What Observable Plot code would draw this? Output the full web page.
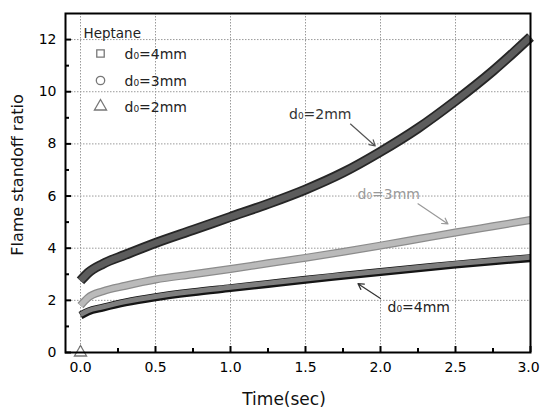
<!DOCTYPE html>
<html>
<head>
<meta charset="utf-8">
<script src="https://cdn.jsdelivr.net/npm/d3@7"></script>
<script src="https://cdn.jsdelivr.net/npm/@observablehq/plot@0.6"></script>
<style>
  html, body { margin: 0; padding: 0; background: white; }
</style>
</head>
<body>
<div id="chart"></div>
<script>
// ---- data ----
const time      = [0, 0.05, 0.15, 0.3, 0.5, 0.75, 1.0, 1.25, 1.5, 1.75, 2.0, 2.25, 2.5, 2.75, 3.0];
const ratio4mm  = [1.45, 1.6, 1.75, 1.95, 2.15, 2.34, 2.5, 2.66, 2.82, 2.97, 3.12, 3.26, 3.4, 3.53, 3.65];
const ratio3mm  = [1.8, 2.1, 2.35, 2.56, 2.8, 3.0, 3.2, 3.42, 3.63, 3.86, 4.1, 4.35, 4.6, 4.84, 5.08];
const ratio2mm  = [2.75, 3.05, 3.4, 3.75, 4.2, 4.7, 5.2, 5.7, 6.25, 6.9, 7.7, 8.6, 9.65, 10.8, 12.1];
const seriesNames = ["d₀=4mm", "d₀=3mm", "d₀=2mm"];
const legendTitle = "Heptane";
const originTime = [0];
const originRatio = [0];

const xTicks  = [0, 0.5, 1.0, 1.5, 2.0, 2.5, 3.0];
const xMinor  = [0.25, 0.75, 1.25, 1.75, 2.25, 2.75];
const yTicks  = [0, 2, 4, 6, 8, 10, 12];
const yMinor  = [1, 3, 5, 7, 9, 11];

// annotation labels (data coordinates) and arrows
const annText = ["d₀=2mm", "d₀=3mm", "d₀=4mm"];
const annX    = [1.39, 1.847, 2.047];
const annY    = [9.14, 6.04, 1.72];
const arrX1   = [1.80, 2.25, 2.00];
const arrY1   = [8.76, 5.70, 2.07];
const arrX2   = [1.965, 2.45, 1.85];
const arrY2   = [7.92, 4.93, 2.64];

// ---- build tables ----
const mk = (vals) => time.map((t, i) => ({t, v: vals[i]}));
const s4 = mk(ratio4mm), s3 = mk(ratio3mm), s2 = mk(ratio2mm);
const origin = originTime.map((t, i) => ({t, v: originRatio[i]}));
const ann = annText.map((s, i) => ({s, x: annX[i], y: annY[i], x1: arrX1[i], y1: arrY1[i], x2: arrX2[i], y2: arrY2[i]}));
const annColor = ["#333", "#999", "#222"];
const arrowColor = ["#555", "#999", "#333"];

const W = 540, H = 409;
const mL = 65, mR = 10, mT = 13, mB = 57;
const plotW = W - mL - mR, plotH = H - mT - mB;

const band = (data, outer, inner, wOut, wIn, dyOut = 0) => [
  Plot.line(data, {x: "t", y: "v", stroke: outer, strokeWidth: wOut, curve: "monotone-x", strokeLinecap: "butt", dy: dyOut}),
  Plot.line(data, {x: "t", y: "v", stroke: inner, strokeWidth: wIn, curve: "monotone-x", strokeLinecap: "butt"})
];

const chart = Plot.plot({
  width: W,
  height: H,
  marginLeft: mL, marginRight: mR, marginTop: mT, marginBottom: mB,
  style: {fontFamily: "DejaVu Sans", fontSize: "14px", background: "white", color: "black"},
  x: {domain: [-0.1, 3.0], label: null},
  y: {domain: [0, 13], label: null},
  marks: [
    Plot.gridX(xTicks, {stroke: "#9a9a9a", strokeOpacity: 1, strokeDasharray: "1.5,1.5"}),
    Plot.gridY(yTicks, {stroke: "#9a9a9a", strokeOpacity: 1, strokeDasharray: "1.5,1.5"}),
    // inward ticks
    Plot.tickX(xTicks, {x: d => d, insetTop: plotH - 6, stroke: "black", strokeWidth: 2}),
    Plot.tickX(xMinor, {x: d => d, insetTop: plotH - 4, stroke: "black", strokeWidth: 2}),
    Plot.tickY(yTicks, {y: d => d, insetRight: plotW - 6, stroke: "black", strokeWidth: 2}),
    Plot.tickY(yMinor, {y: d => d, insetRight: plotW - 4, stroke: "black", strokeWidth: 2}),
    Plot.axisX(xTicks.slice(0, -1), {tickSize: 0, tickPadding: 10, tickFormat: d3.format(".1f"), fontSize: 14, label: null}),
    Plot.axisX(xTicks.slice(-1), {tickSize: 0, tickPadding: 10, tickFormat: d3.format(".1f"), fontSize: 14, label: null, dx: -2}),
    Plot.axisY(yTicks, {tickSize: 0, tickPadding: 9, tickFormat: d3.format("d"), fontSize: 14, label: null}),
    // data bands
    ...band(s4, "#151515", "#7e7e7e", 8, 5, 0.8),
    ...band(s3, "#8c8c8c", "#bababa", 8, 5.5),
    ...band(s2, "#262626", "#5c5c5c", 10, 6.5),
    Plot.dot(origin, {x: "t", y: "v", symbol: "triangle", r: 4.5, stroke: "#777", fill: "white", strokeWidth: 1.3}),
    // annotations
    Plot.text(ann, {x: "x", y: "y", text: "s", textAnchor: "start", fill: (d, i) => annColor[i], fontSize: 14}),
    Plot.arrow(ann, {x1: "x1", y1: "y1", x2: "x2", y2: "y2", stroke: (d, i) => arrowColor[i], strokeWidth: 1.2, headLength: 8, bend: 0}),
    // legend
    Plot.text([legendTitle], {frameAnchor: "top-left", dx: 18, dy: 20, textAnchor: "start", lineAnchor: "middle", fontSize: 13.5, fill: "#222"}),
    Plot.dot([0], {frameAnchor: "top-left", dx: 35, dy: 40, symbol: "square", r: 4.2, stroke: "#777", fill: "white", strokeWidth: 1.3}),
    Plot.dot([0], {frameAnchor: "top-left", dx: 35, dy: 67, symbol: "circle", r: 4.2, stroke: "#777", fill: "white", strokeWidth: 1.3}),
    Plot.dot([0], {frameAnchor: "top-left", dx: 35, dy: 93, symbol: "triangle", r: 4.5, stroke: "#777", fill: "white", strokeWidth: 1.3}),
    Plot.text([seriesNames[0]], {frameAnchor: "top-left", dx: 59, dy: 41, textAnchor: "start", lineAnchor: "middle", fontSize: 14, fill: "#222"}),
    Plot.text([seriesNames[1]], {frameAnchor: "top-left", dx: 59, dy: 68, textAnchor: "start", lineAnchor: "middle", fontSize: 14, fill: "#222"}),
    Plot.text([seriesNames[2]], {frameAnchor: "top-left", dx: 59, dy: 94, textAnchor: "start", lineAnchor: "middle", fontSize: 14, fill: "#222"}),
    // axis titles
    Plot.text(["Time(sec)"], {frameAnchor: "bottom", textAnchor: "middle", lineAnchor: "middle", dx: -14, dy: 47, fontSize: 17, fill: "#111"}),
    Plot.text(["Flame standoff ratio"], {frameAnchor: "left", textAnchor: "middle", lineAnchor: "middle", rotate: -90, dx: -48, dy: -8, fontSize: 16, fill: "#111"}),
    Plot.frame({stroke: "black", strokeWidth: 2})
  ]
});
document.getElementById("chart").appendChild(chart);
</script>
</body>
</html>
